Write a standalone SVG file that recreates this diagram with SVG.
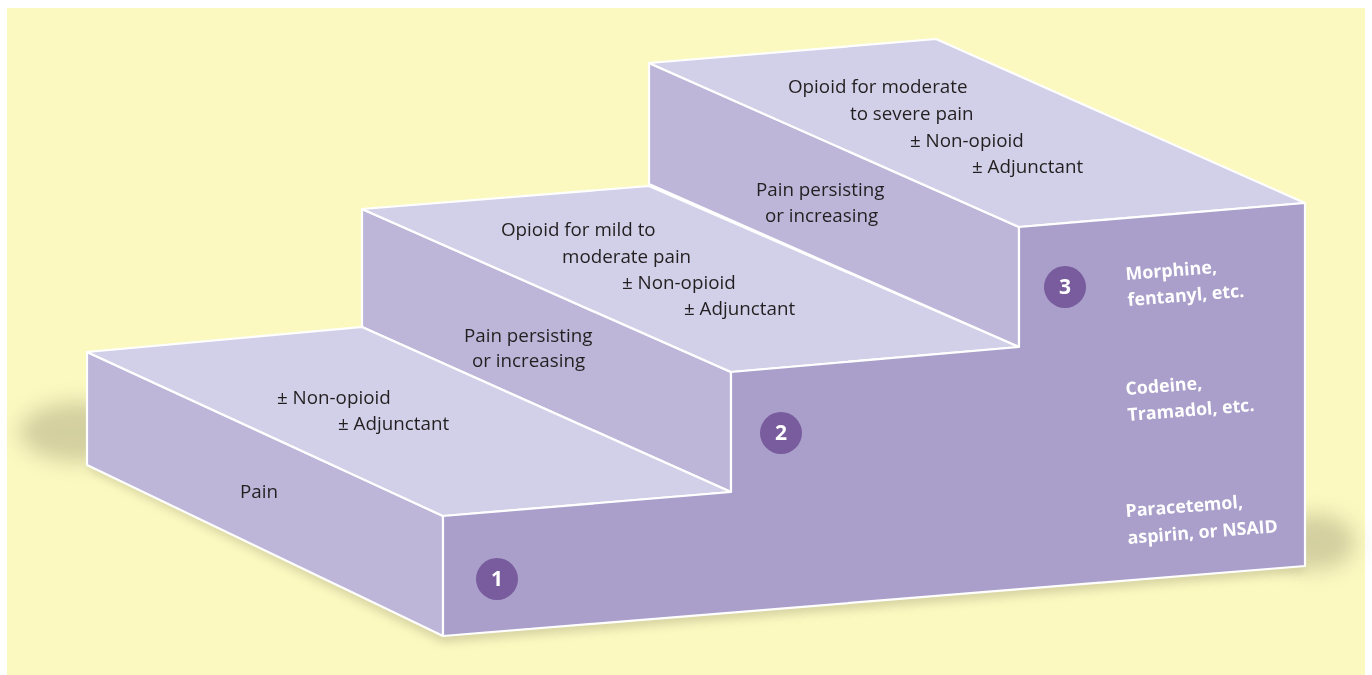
<svg xmlns="http://www.w3.org/2000/svg" width="1372" height="675" viewBox="0 0 1372 675">
<defs>
<style>
.top{fill:#D2D0E8;stroke:#FFFFFF;stroke-width:2.2;stroke-linejoin:round}
.side{fill:#BDB6D9;stroke:#FFFFFF;stroke-width:2.2;stroke-linejoin:round}
.front{fill:#AA9FCA;stroke:#FFFFFF;stroke-width:2.2;stroke-linejoin:round}
.lbl{font-family:"Open Sans","Noto Sans",sans-serif;font-size:18.8px;fill:#231F20}
.drug{font-family:"Open Sans","Noto Sans",sans-serif;font-size:17.8px;font-weight:bold;fill:#FFFFFF}
.num{font-family:"Open Sans","Noto Sans",sans-serif;font-size:21px;font-weight:bold;fill:#FFFFFF;text-anchor:middle}
.badge{fill:#785C9D}
</style>
<filter id="blur" x="-50%" y="-50%" width="200%" height="200%"><feGaussianBlur stdDeviation="10"/></filter>
<filter id="blur2" x="-20%" y="-20%" width="140%" height="140%"><feGaussianBlur stdDeviation="5"/></filter>
</defs>
<rect x="7" y="8" width="1358" height="667" fill="#FBF9C0"/>
<g id="shadows" fill="#CFCB9C" opacity="0.9">
<ellipse cx="80" cy="432" rx="60" ry="30" filter="url(#blur)"/>
<ellipse cx="1315" cy="542" rx="40" ry="28" filter="url(#blur)"/>
<polygon points="90,470 443,642 1305,572 1305,560 443,630 90,460" filter="url(#blur2)"/>
</g>
<g id="step3">
<polygon class="side" points="649,63 1019,227 1019,347 649,184"/>
<polygon class="top" points="649,63 936,39 1305,203 1019,227"/>
<text class="lbl" x="788" y="93">Opioid for moderate</text>
<text class="lbl" x="850" y="120">to severe pain</text>
<text class="lbl" x="910" y="147">± Non-opioid</text>
<text class="lbl" x="972" y="173">± Adjunctant</text>
<text class="lbl" x="756" y="196">Pain persisting</text>
<text class="lbl" x="765" y="222">or increasing</text>
</g>
<g id="step2">
<polygon class="side" points="362,209 731,372 731,492 362,327"/>
<polygon class="top" points="362,209 649,186 1019,347 731,372"/>
<text class="lbl" x="501" y="236">Opioid for mild to</text>
<text class="lbl" x="562" y="263">moderate pain</text>
<text class="lbl" x="622" y="289">± Non-opioid</text>
<text class="lbl" x="684" y="315">± Adjunctant</text>
<text class="lbl" x="464" y="342">Pain persisting</text>
<text class="lbl" x="472" y="367">or increasing</text>
</g>
<g id="step1">
<polygon class="side" points="87,352 443,516 443,636 87,465"/>
<polygon class="top" points="87,352 362,327 731,492 443,516"/>
<text class="lbl" x="277" y="404">± Non-opioid</text>
<text class="lbl" x="338" y="430">± Adjunctant</text>
<text class="lbl" x="240" y="498">Pain</text>
</g>
<g id="front">
<polygon class="front" points="443,516 731,492 731,372 1019,347 1019,227 1305,203 1305,566 443,636"/>
</g>
<g id="badge1">
<circle class="badge" cx="497" cy="579" r="21"/>
<text class="num" x="497" y="586">1</text>
</g>
<g id="badge2">
<circle class="badge" cx="781" cy="433" r="21"/>
<text class="num" x="781" y="440">2</text>
</g>
<g id="badge3">
<circle class="badge" cx="1065" cy="287" r="21"/>
<text class="num" x="1065" y="294">3</text>
</g>
<g id="drugs3" transform="rotate(-4.5 1126 280)">
<text class="drug" x="1126" y="280">Morphine,</text>
<text class="drug" x="1126" y="306">fentanyl, etc.</text>
</g>
<g id="drugs2" transform="rotate(-4.5 1126 395)">
<text class="drug" x="1126" y="395">Codeine,</text>
<text class="drug" x="1126" y="421">Tramadol, etc.</text>
</g>
<g id="drugs1" transform="rotate(-4.5 1126 517)">
<text class="drug" x="1126" y="517">Paracetemol,</text>
<text class="drug" x="1126" y="544">aspirin, or NSAID</text>
</g>
</svg>
